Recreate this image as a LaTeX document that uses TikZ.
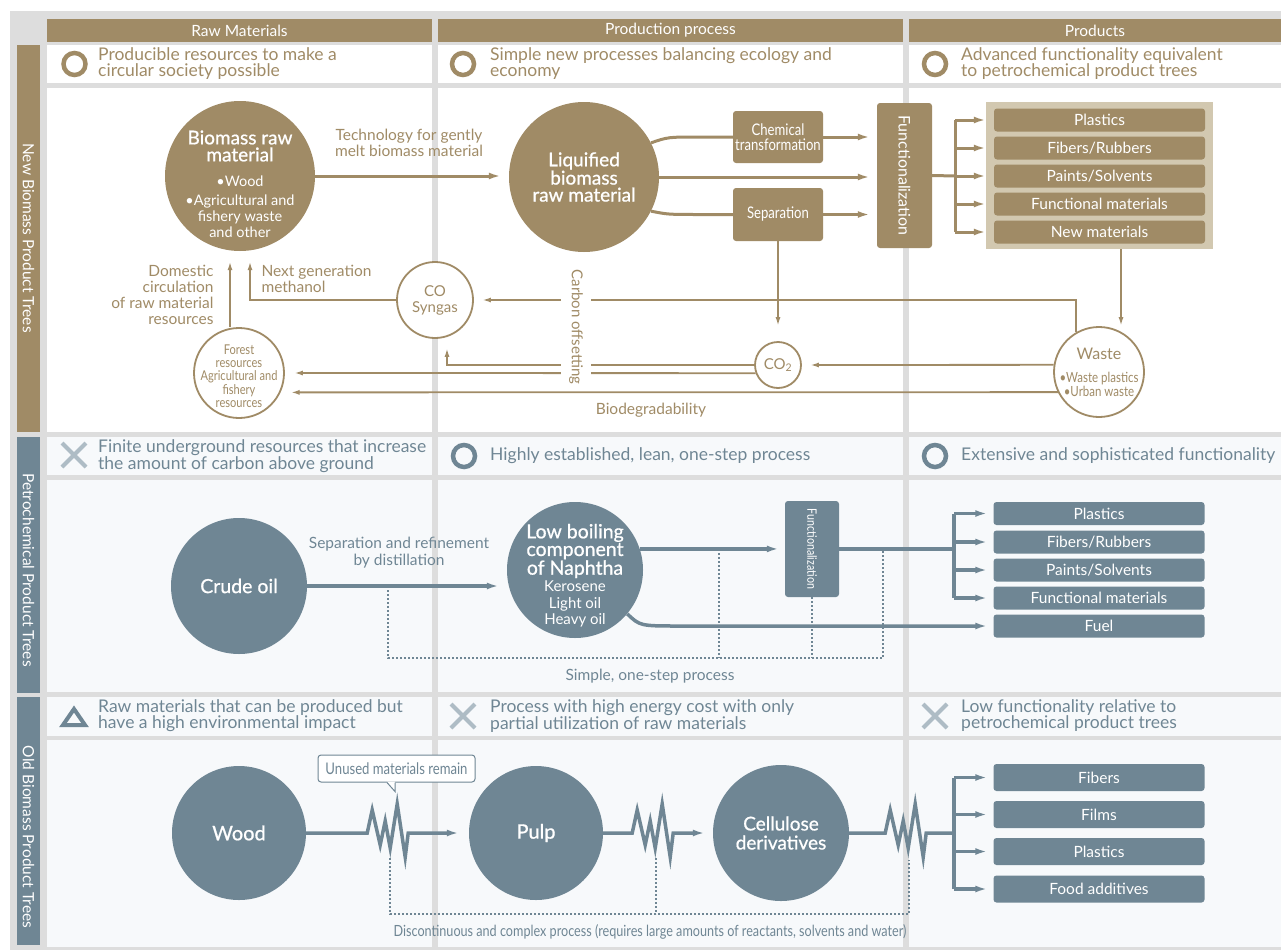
\documentclass[tikz,border=0pt]{standalone}
\usepackage{fontspec}
\setmainfont{Lato}
\newfontfamily\condfont[FakeStretch=0.82]{Lato}
\newfontfamily\demifont[FakeBold=0.8]{Lato}
\usetikzlibrary{arrows.meta}

\definecolor{biotan}{HTML}{A08B66}
\definecolor{biopanel}{HTML}{D2C8B0}
\definecolor{petroslate}{HTML}{6F8694}
\definecolor{petrolight}{HTML}{AEBCC5}
\definecolor{gridgray}{HTML}{DDDDDD}
\definecolor{cellbg}{HTML}{F7F9FB}

\newcommand{\setfs}[2]{\fontsize{#1}{#2}\selectfont}

\tikzset{
  colhdr/.style={fill=biotan, text=white, font=\setfs{15.5}{16}, minimum height=23pt, inner sep=0pt},
  rowlbl/.style={text=white, font=\setfs{15.5}{16}, inner sep=0pt},
  hdrtxt/.style={anchor=west, align=left, inner sep=0pt, font=\setfs{17.5}{16}},
  ring/.style={line width=4.5pt},
  ball/.style={circle, text=white, align=center, inner sep=0pt},
  ringball/.style={circle, draw=biotan, line width=1.8pt, fill=white, inner sep=0pt},
  tbox/.style={text=white, rounded corners=3pt, align=center, inner sep=0pt},
  prod/.style={rounded corners=3pt, text=white, minimum width=211pt, minimum height=23pt, inner sep=0pt, font=\setfs{15.5}{16}},
  tline/.style={draw=biotan, line width=3pt},
  cline/.style={draw=biotan, line width=1.8pt},
  sline/.style={draw=petroslate, line width=3.5pt},
  dotline/.style={draw=petroslate, line width=2pt, dotted},
  tip/.style={-{Latex[length=12pt,width=7pt]}},
  smalltip/.style={-{Latex[length=9pt,width=5pt]}},
  zz/.style={insert path={-- ++(5,-23) -- ++(8,35) -- ++(5,-24) -- ++(5,27) -- ++(7,-44) -- ++(8,53) -- ++(3,-24)}}
}

\begin{document}
\begin{tikzpicture}[x=1pt,y=-1pt]
  \useasboundingbox (0,0) rectangle (1281,950);
  \fill[white] (0,0) rectangle (1281,950);
  \fill[gridgray] (10,11) rectangle (1281,950);

  %cells
  \foreach \xa/\xb in {47/432, 438/903, 909/1281} {
    \fill[white] (\xa,45) rectangle (\xb,83);
    \fill[white] (\xa,88) rectangle (\xb,432);
    \fill[cellbg] (\xa,437) rectangle (\xb,475);
    \fill[cellbg] (\xa,480) rectangle (\xb,692);
    \fill[cellbg] (\xa,697) rectangle (\xb,736);
    \fill[cellbg] (\xa,740) rectangle (\xb,947);
  }

  %column headers
  \node[colhdr, minimum width=385pt] (hraw) at (239.5,30.5) {Raw Materials};
  \node[colhdr, minimum width=465pt] (hproc) at (670.5,30.5) {Production process};
  \node[colhdr, minimum width=372pt] (hprod) at (1095,30.5) {Products};

  %row labels
  \fill[biotan] (17,45) rectangle (40,432);
  \fill[petroslate] (17,437) rectangle (40,693);
  \fill[petroslate] (17,697) rectangle (40,945);
  \node[rowlbl] (rnew) at (28.5,238) {\rotatebox{-90}{New Biomass Product Trees}};
  \node[rowlbl] (rpetro) at (28.5,570) {\rotatebox{-90}{Petrochemical Product Trees}};
  \node[rowlbl] (rold) at (28.5,837) {\rotatebox{-90}{Old Biomass Product Trees}};

  %header rows: marks and texts
  \draw[ring, biotan] (74.5,64) circle (11);
  \draw[ring, biotan] (463,64) circle (11);
  \draw[ring, biotan] (935,64) circle (11);
  \node[hdrtxt, text=biotan] (h11) at (98,64) {Producible resources to make a\\circular society possible};
  \node[hdrtxt, text=biotan] (h12) at (490,64) {Simple new processes balancing ecology and\\economy};
  \node[hdrtxt, text=biotan] (h13) at (961,64) {Advanced functionality equivalent\\to petrochemical product trees};

  \draw[line width=4pt, petrolight] (62,443) -- (86,467) (62,467) -- (86,443);
  \draw[ring, petroslate] (464,456) circle (11);
  \draw[ring, petroslate] (935,456) circle (11);
  \node[hdrtxt, text=petroslate] (h21) at (98,456) {Finite underground resources that increase\\the amount of carbon above ground};
  \node[hdrtxt, text=petroslate] (h22) at (490,456) {Highly established, lean, one-step process};
  \node[hdrtxt, text=petroslate] (h23) at (961,456) {Extensive and sophisticated functionality};

  \draw[line width=4pt, petroslate, line join=miter] (63,725) -- (74,709) -- (85,725) -- cycle;
  \draw[line width=4pt, petrolight] (451,704) -- (475,728) (451,728) -- (475,704);
  \draw[line width=4pt, petrolight] (923,704) -- (947,728) (923,728) -- (947,704);
  \node[hdrtxt, text=petroslate] (h31) at (98,716) {Raw materials that can be produced but\\have a high environmental impact};
  \node[hdrtxt, text=petroslate] (h32) at (490,716) {Process with high energy cost with only\\partial utilization of raw materials};
  \node[hdrtxt, text=petroslate] (h33) at (961,716) {Low functionality relative to\\petrochemical product trees};

  %new biomass tree
  \node[ball, fill=biotan, minimum size=150pt] (bio) at (240,176) {};
  \node[text=white, align=center, font=\demifont\setfs{19}{17}] (biotitle) at (240,146) {Biomass raw\\material};
  \node[text=white, align=center, font=\setfs{14.5}{16}] (biosub) at (240,207) {•Wood\\[3pt]•Agricultural and\\fishery waste\\and other};
  \node[ball, fill=biotan, minimum size=150pt, font=\demifont\setfs{19}{17}] (liq) at (584,177) {Liquified\\biomass\\raw material};
  \node[tbox, fill=biotan, minimum width=90pt, minimum height=52pt, font=\condfont\setfs{16}{15}] (chem) at (778,137) {Chemical\\transformation};
  \node[tbox, fill=biotan, minimum width=90pt, minimum height=53pt, font=\condfont\setfs{16}{15}] (sep) at (778,214.5) {Separation};
  \node[tbox, fill=biotan, minimum width=55pt, minimum height=145pt, font=\setfs{16}{16}] (func) at (904.5,175.5) {\rotatebox{-90}{Functionalization}};
  \node[fill=biopanel, minimum width=227pt, minimum height=147pt, inner sep=0pt] (panel) at (1099.5,175.5) {};
  \foreach \n/\y/\t in {1/120/Plastics, 2/148/{Fibers/Rubbers}, 3/176/{Paints/Solvents}, 4/204/Functional materials, 5/232/New materials}
    \node[prod, fill=biotan] (bp\n) at (1099.5,\y) {\t};

  \draw[tline, tip, shorten >=8pt] (bio.east) -- (bio.east -| liq.west);
  \draw[tline] (liq.27) .. controls (668,137) .. (700,137) -- (chem.west);
  \draw[tline] (liq.-27) .. controls (668,214.5) .. (700,214.5) -- (sep.west);
  \draw[tline, tip, shorten >=7pt] (chem.east) -- (chem.east -| func.west);
  \draw[tline, tip, shorten >=7pt] (liq.east) -- (liq.east -| func.west);
  \draw[tline, tip, shorten >=7pt] (sep.east) -- (sep.east -| func.west);
  \coordinate (bfork) at (955,176);
  \draw[tline] (func.east) -- (bfork);
  \draw[tline] (bfork |- bp1) -- (bfork |- bp5);
  \foreach \n in {1,...,5}
    \draw[tline, tip] (bfork |- bp\n) -- (panel.west |- bp\n);

  %cycle
  \node[ringball, minimum size=76pt, text=biotan, align=center, font=\setfs{15}{16}] (syn) at (435,300) {CO\\Syngas};
  \node[ringball, minimum size=90pt] (forest) at (239,373) {};
  \node[text=biotan, align=center, font=\condfont\setfs{13.5}{13.3}] (foresttxt) at (239,376) {Forest\\resources\\Agricultural and\\fishery\\resources};
  \node[ringball, minimum size=46pt, text=biotan, font=\setfs{15}{16}] (co2) at (778,365) {CO\textsubscript{2}};
  \node[ringball, minimum size=90pt] (waste) at (1099,372) {};
  \node[text=biotan, align=center, font=\setfs{16}{16}] (wastetitle) at (1099,354) {Waste};
  \node[text=biotan, align=center, font=\condfont\setfs{14}{14}] (wastesub) at (1099,384) {•Waste plastics\\•Urban waste};

  \coordinate (wx) at (1121,0);
  \draw[cline, smalltip] (panel.south -| wx) -- (waste.north -| wx);
  \draw[cline, smalltip, shorten >=8pt] (waste.120) |- (syn.east);
  \draw[cline, smalltip, shorten >=10pt] (syn.west) -| ([xshift=10pt]bio.south);
  \draw[cline, smalltip, shorten >=10pt] ([xshift=-10pt]bio.south |- forest.north) -- ([xshift=-10pt]bio.south);
  \draw[cline, smalltip, shorten >=15pt] (sep.south) -- (co2.north);
  \draw[cline, smalltip, shorten >=8pt] (waste.171) -- (co2.east);
  \draw[cline, smalltip, shorten >=9pt] (co2.west) -| ([xshift=12pt]syn.south);
  \draw[cline, smalltip, shorten >=9pt] (co2.200) -- (forest.east);
  \draw[cline, smalltip, shorten >=10pt] (waste.206) -- (forest.-25);

  \node[rotate=-90, fill=white, inner xsep=1pt, inner ysep=8pt, text=biotan, font=\setfs{15}{16}] (carb) at (576,327) {Carbon offsetting};
  \node[text=biotan, align=center, font=\setfs{15.5}{16}] (techlbl) at (409,143) {Technology for gently\\melt biomass material};
  \node[text=biotan, align=left, anchor=west, font=\setfs{15.5}{16}] (methlbl) at (258,279) {Next generation\\methanol};
  \node[text=biotan, align=right, anchor=east, font=\setfs{15.5}{16}] (domlbl) at (217,295) {Domestic\\circulation\\of raw material\\resources};
  \node[text=biotan, font=\setfs{15.5}{16}] (biodeg) at (651,410) {Biodegradability};

  %petrochemical tree
  \node[ball, fill=petroslate, minimum size=136pt, font=\demifont\setfs{19.5}{18}] (crude) at (239,586) {Crude oil};
  \node[ball, fill=petroslate, minimum size=136pt] (naph) at (575,570) {};
  \node[text=white, align=center, font=\demifont\setfs{19.5}{15.5}] (naphtitle) at (575,551) {Low boiling\\component\\of Naphtha};
  \node[text=white, align=center, font=\setfs{15}{16.5}] (naphsub) at (575,604) {Kerosene\\Light oil\\Heavy oil};
  \node[tbox, fill=petroslate, minimum width=54pt, minimum height=96pt, font=\condfont\setfs{13}{14}] (sfunc) at (812,549) {\rotatebox{-90}{Functionalization}};
  \foreach \n/\y/\t in {1/513.5/Plastics, 2/542/{Fibers/Rubbers}, 3/570/{Paints/Solvents}, 4/598/Functional materials, 5/626/Fuel}
    \node[prod, fill=petroslate] (pp\n) at (1099,\y) {\t};

  \draw[sline, tip, shorten >=8pt] (crude.east) -- (crude.east -| naph.west);
  \draw[sline, tip, shorten >=6pt] (naph.18) -- (naph.18 -| sfunc.west);
  \coordinate (pfork) at (954,549);
  \draw[sline] (sfunc.east) -- (pfork);
  \draw[sline] (pfork |- pp1) -- (pfork |- pp4);
  \foreach \n in {1,...,4}
    \draw[sline, tip, shorten >=6pt] (pfork |- pp\n) -- (pp\n.west);
  \draw[sline, tip, shorten >=6pt] (naph.-40) .. controls (640,626) .. (680,626) -- (pp5.west);

  \coordinate (dA) at (388,658);
  \coordinate (dB) at (883,658);
  \coordinate (dC) at (719,658);
  \draw[dotline] (dA |- crude.east) -- (dA) -- (dB) -- (dB |- sfunc.east);
  \draw[dotline] (dC |- sfunc.east) -- (dC);
  \draw[dotline] (sfunc.south) -- (sfunc.south |- dA);
  \node[text=petroslate, font=\setfs{15.5}{16}] (simple) at (650,676) {Simple, one-step process};
  \node[text=petroslate, align=center, font=\setfs{15.5}{17}] (distlbl) at (399,553) {Separation and refinement\\by distillation};

  %old biomass tree
  \node[ball, fill=petroslate, minimum size=134pt, font=\demifont\setfs{20}{19}] (wood) at (239,833) {Wood};
  \node[ball, fill=petroslate, minimum size=134pt, font=\demifont\setfs{20}{19}] (pulp) at (536,833) {Pulp};
  \node[ball, fill=petroslate, minimum size=136pt, font=\demifont\setfs{19}{19}] (cell) at (781,833) {Cellulose\\derivatives};
  \foreach \n/\y/\t in {1/777.5/Fibers, 2/814.5/Films, 3/851.5/Plastics, 4/889/Food additives}
    \node[prod, fill=petroslate, minimum height=27pt] (op\n) at (1099,\y) {\t};

  \draw[sline, tip, shorten >=10pt] (wood.east) -- ++(61,0) [zz] -- (pulp.west);
  \draw[sline, tip, shorten >=8pt] (pulp.east) -- ++(29,0) [zz] -- (cell.west);
  \coordinate (ofork) at (954,833);
  \draw[sline] (cell.east) -- ++(36,0) [zz] -- (ofork);
  \draw[sline] (ofork |- op1) -- (ofork |- op4);
  \foreach \n in {1,...,4}
    \draw[sline, tip, shorten >=6pt] (ofork |- op\n) -- (op\n.west);

  \node[draw=petroslate, line width=1pt, fill=white, rounded corners=3pt, text=petroslate, font=\condfont\setfs{16}{16}, minimum width=157pt, minimum height=27pt, inner sep=0pt] (unused) at (396.5,768.5) {Unused materials remain};
  \fill[white] ([xshift=-9.5pt,yshift=0.8pt]unused.south) -- ([xshift=-1.5pt,yshift=-9pt]unused.south) -- ([xshift=-1.5pt,yshift=0.8pt]unused.south) -- cycle;
  \draw[petroslate, line width=1pt] ([xshift=-9.5pt]unused.south) -- ([xshift=-1.5pt,yshift=-9pt]unused.south) -- ([xshift=-1.5pt]unused.south);

  \coordinate (eA) at (390,914);
  \coordinate (eB) at (909,914);
  \coordinate (eC) at (656,914);
  \draw[dotline] (390,858) -- (eA) -- (eB) -- (909,860);
  \draw[dotline] (656,858) -- (eC);
  \node[text=petroslate, font=\condfont\setfs{15.4}{16}] (disc) at (650,932) {Discontinuous and complex process (requires large amounts of reactants, solvents and water)};
\end{tikzpicture}
\end{document}
